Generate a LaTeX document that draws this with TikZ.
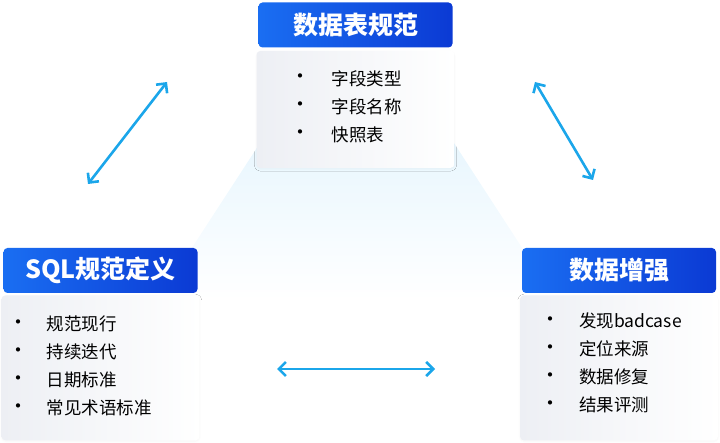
\documentclass[tikz,border=0pt]{standalone}
\usepackage{fontspec}
\setmainfont{Noto Sans CJK SC}
\usetikzlibrary{arrows.meta,positioning,shadows.blur}
\definecolor{headl}{HTML}{1A6EF2}
\definecolor{headr}{HTML}{0B3AD4}
\definecolor{bodyl}{HTML}{EDEFF4}
\definecolor{glow}{HTML}{E8F6FE}
\definecolor{link}{HTML}{1BA6EA}

\begin{document}
\begin{tikzpicture}[x=1pt,y=-1pt,
 node distance=2pt,
 head/.style={rounded corners=4pt,left color=headl,right color=headr,text=white,minimum width=194pt,minimum height=45pt,inner sep=0pt,font=\bfseries\fontsize{25}{25}\selectfont},
 panel/.style={rounded corners=4pt,left color=bodyl,right color=white,minimum width=198pt,inner sep=0pt,blur shadow={shadow xshift=0pt,shadow yshift=-1pt,shadow opacity=4,shadow blur steps=6}},
 item/.style={anchor=west,inner sep=0pt,font=\fontsize{17.5}{17.5}\selectfont},
 dot/.style={inner sep=0pt,font=\fontsize{20}{20}\selectfont},
 arr/.style={{Straight Barb[length=7pt,width=14pt]}-{Straight Barb[length=7pt,width=14pt]},draw=link,line width=2.6pt}]
\useasboundingbox (0,0) rectangle (720,443);
% light glow between the three groups
\shade[top color=glow,bottom color=white] (262,140) -- (452,140) -- (556,300) -- (158,300) -- cycle;

\node[head] (datahead) at (355.5,25) {数据表规范};
\node[panel,minimum height=117pt,below=3pt of datahead] (databody) {};
\foreach \t [count=\i] in {字段类型,字段名称,快照表} {
  \node[item] (data\i) at ([xshift=75pt,yshift={-28pt*\i}]databody.north west) {\t};
  \node[dot] at ([xshift=-31pt]data\i.west) {•};
}

\node[head] (sqlhead) at (100.5,270.5) {SQL规范定义};
\node[panel,minimum height=145pt,below=2pt of sqlhead] (sqlbody) {};
\foreach \t [count=\i] in {规范现行,持续迭代,日期标准,常见术语标准} {
  \node[item] (sql\i) at ([xshift=45pt,yshift={-28pt*\i-1pt}]sqlbody.north west) {\t};
  \node[dot] at ([xshift=-28pt]sql\i.west) {•};
}

\node[head] (aughead) at (619,270.5) {数据增强};
\node[panel,minimum height=145pt,below=2pt of aughead] (augbody) {};
\foreach \t [count=\i] in {发现badcase,定位来源,数据修复,结果评测} {
  \node[item] (aug\i) at ([xshift=59pt,yshift={-28pt*\i+2pt}]augbody.north west) {\t};
  \node[dot] at ([xshift=-28pt]aug\i.west) {•};
}

\coordinate (sqlend) at (88,184);
\coordinate (dataendl) at (167,82);
\coordinate (dataendr) at (535,82);
\coordinate (augend) at (593,180);
\coordinate (sqlright) at (277,369);
\coordinate (augleft) at (435,369);
\draw[arr] (sqlend) -- (dataendl);
\draw[arr] (dataendr) -- (augend);
\draw[arr] (sqlright) -- (augleft);
\end{tikzpicture}
\end{document}
